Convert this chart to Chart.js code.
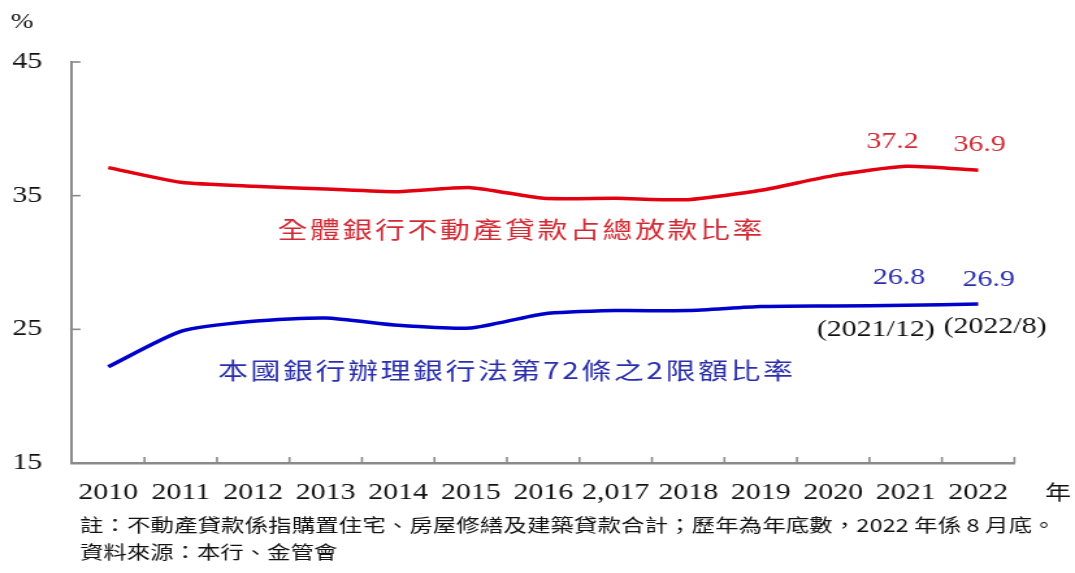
<!DOCTYPE html>
<html>
<head>
<meta charset="utf-8">
<script src="https://cdn.jsdelivr.net/npm/chart.js@4/dist/chart.umd.min.js"></script>
<style>
  html, body { margin: 0; padding: 0; background: #fff; }
</style>
</head>
<body>
<!-- the source image is stretched sideways, so the canvas is too -->
<canvas id="chart" width="827" height="573" style="width:1075px;height:573px"></canvas>
<script>
const years = ['2010', '2011', '2012', '2013', '2014', '2015', '2016', '2,017', '2018', '2019', '2020', '2021', '2022'];
const realEstateShare = [37.1, 36.0, 35.7, 35.5, 35.3, 35.6, 34.8, 34.8, 34.7, 35.4, 36.5, 37.2, 36.9];
const limitRatio = [22.2, 24.85, 25.6, 25.85, 25.3, 25.1, 26.15, 26.4, 26.4, 26.7, 26.75, 26.8, 26.9];
const yTicks = [15, 25, 35, 45];

const redName = '全體銀行不動產貸款占總放款比率';
const blueName = '本國銀行辦理銀行法第72條之2限額比率';
const noteLine = '註：不動產貸款係指購置住宅、房屋修繕及建築貸款合計；歷年為年底數，2022 年係 8 月底。';
const sourceLine = '資料來源：本行、金管會';

const axisGray = '#8a8a8a';
const lineRed = '#e30010';
const lineBlue = '#0000cc';
const textRed = '#d02a35';
const textBlue = '#2a2eaa';
const serif = '"Liberation Serif", "Times New Roman", serif';
const cjk = '"Noto Sans CJK TC", "Noto Sans CJK SC", sans-serif';

// draws text one char at a time with extra gap; start is the left edge,
// or the centre when centred is true
function spaced(ctx, str, start, cy, gap, centred) {
  const chars = Array.from(str);
  let total = gap * (chars.length - 1);
  chars.forEach(c => { total += ctx.measureText(c).width; });
  let px = centred ? start - total / 2 : start;
  ctx.textAlign = 'left';
  chars.forEach(c => {
    ctx.fillText(c, px, cy);
    px += ctx.measureText(c).width + gap;
  });
}

const extras = {
  id: 'extras',
  afterDraw(chart) {
    const { ctx, chartArea } = chart;
    const x = chart.scales.x;
    const y = chart.scales.y;
    ctx.save();

    // tick marks pointing into the plot
    ctx.strokeStyle = axisGray;
    ctx.lineWidth = 1.6;
    for (let k = 0; k < years.length; k++) {
      const bx = x.getPixelForValue(k + 0.5);
      ctx.beginPath();
      ctx.moveTo(bx, chartArea.bottom);
      ctx.lineTo(bx, chartArea.bottom - 6);
      ctx.stroke();
    }
    yTicks.slice(1).forEach(v => {
      const py = y.getPixelForValue(v);
      ctx.beginPath();
      ctx.moveTo(chartArea.left - 1.5, py);
      ctx.lineTo(chartArea.left + 6.5, py);
      ctx.stroke();
    });

    ctx.textBaseline = 'middle';

    // unit labels
    ctx.fillStyle = '#111';
    ctx.font = '21px ' + serif;
    ctx.textAlign = 'center';
    ctx.fillText('%', 17, 22);
    ctx.font = '20px ' + cjk;
    ctx.fillText('年', 814, y.getPixelForValue(15) + 29);

    // value labels at the last two points
    const n = years.length;
    ctx.font = '23px ' + serif;
    ctx.fillStyle = textRed;
    ctx.fillText(realEstateShare[n - 2].toFixed(1), x.getPixelForValue(n - 2) - 10, y.getPixelForValue(realEstateShare[n - 2]) - 24);
    ctx.fillText(realEstateShare[n - 1].toFixed(1), x.getPixelForValue(n - 1) + 1, y.getPixelForValue(realEstateShare[n - 1]) - 25);
    ctx.fillStyle = textBlue;
    ctx.fillText(limitRatio[n - 2].toFixed(1), x.getPixelForValue(n - 2) - 5, y.getPixelForValue(limitRatio[n - 2]) - 27);
    ctx.fillText(limitRatio[n - 1].toFixed(1), x.getPixelForValue(n - 1) + 8, y.getPixelForValue(limitRatio[n - 1]) - 24);
    ctx.fillStyle = '#111';
    ctx.fillText('(2021/12)', x.getPixelForValue(n - 2) - 23, y.getPixelForValue(limitRatio[n - 2]) + 25);
    ctx.fillText('(2022/8)', x.getPixelForValue(n - 1) + 13, y.getPixelForValue(limitRatio[n - 1]) + 23);

    // series names inside the plot
    ctx.font = '23px ' + cjk;
    ctx.fillStyle = textRed;
    spaced(ctx, redName, x.getPixelForValue(5.68), y.getPixelForValue(32.45), 2, true);
    ctx.fillStyle = textBlue;
    spaced(ctx, blueName, x.getPixelForValue(5.48), y.getPixelForValue(21.97), 2, true);

    // footnotes
    ctx.fillStyle = '#111';
    ctx.font = '18px ' + cjk;
    spaced(ctx, noteLine, 61.5, 525, 0.1, false);
    ctx.textAlign = 'left';
    ctx.fillText(sourceLine, 61.5, 552);

    ctx.restore();
  }
};

new Chart(document.getElementById('chart'), {
  type: 'line',
  data: {
    labels: years,
    datasets: [
      {
        label: redName,
        data: realEstateShare,
        borderColor: lineRed,
        borderWidth: 3.5,
        pointRadius: 0,
        tension: 0.2,
        fill: false,
      },
      {
        label: blueName,
        data: limitRatio,
        borderColor: lineBlue,
        borderWidth: 3.5,
        pointRadius: 0,
        tension: 0.2,
        fill: false,
      },
    ],
  },
  options: {
    responsive: false,
    devicePixelRatio: 1,
    animation: false,
    layout: { padding: { top: 62, right: 46.6, left: 0, bottom: 0 } },
    plugins: {
      legend: { display: false },
      tooltip: { enabled: false },
    },
    scales: {
      x: {
        offset: true,
        grid: { display: false, drawTicks: false, offset: true },
        border: { display: true, color: axisGray, width: 2.4 },
        ticks: {
          color: '#111',
          font: { family: serif, size: 23 },
          padding: 16,
          maxRotation: 0,
          autoSkip: false,
        },
        afterFit(scale) { scale.height = 110; },
      },
      y: {
        min: 15,
        max: 45,
        grid: { display: false, drawTicks: false },
        border: { display: true, color: axisGray, width: 2 },
        ticks: {
          stepSize: 10,
          color: '#111',
          font: { family: serif, size: 23 },
          padding: 23,
        },
        afterFit(scale) { scale.width = 55.4; },
      },
    },
  },
  plugins: [extras],
});
</script>
</body>
</html>
